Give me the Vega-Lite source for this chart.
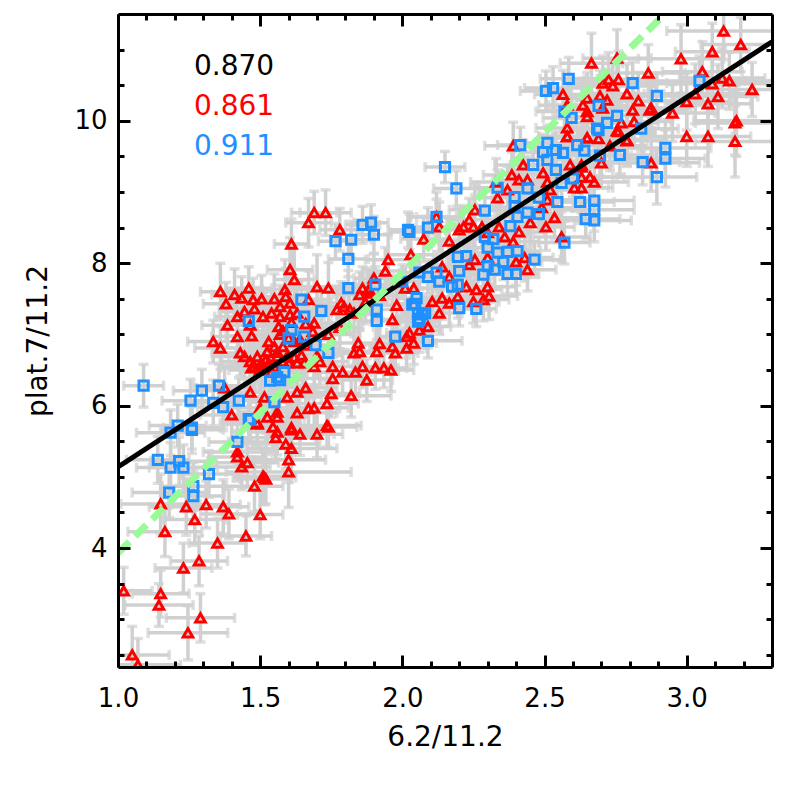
{"$schema":"https://vega.github.io/schema/vega-lite/v6.json","width":654,"height":653,"autosize":{"type":"none"},"padding":{"left":118,"top":14,"right":14,"bottom":119},"background":"white","config":{"view":{"stroke":null},"font":"DejaVu Sans"},
"datasets":{"lines":[{"l":"fit","x":1.0,"y":5.14},{"l":"fit","x":3.3,"y":11.11},{"l":"one","x":1.0,"y":3.93},{"l":"one","x":2.923,"y":11.5}],
"labels":[{"x":1.267,"y":10.75,"label":"0.870"},{"x":1.267,"y":10.2,"label":"0.861"},{"x":1.267,"y":9.63,"label":"0.911"}],
"pts":[
{"g":"r","x":1.02,"y":3.4,"xe":0.1,"ye":0.33},{"g":"r","x":1.15,"y":3.36,"xe":0.1,"ye":0.33},{"g":"r","x":1.144,"y":3.2,"xe":0.12,"ye":0.3},{"g":"r","x":1.05,"y":2.5,"xe":0.13,"ye":0.4},{"g":"r","x":1.07,"y":2.36,"xe":0.15,"ye":0.37},{"g":"r","x":1.246,"y":2.81,"xe":0.14,"ye":0.38},{"g":"r","x":1.29,"y":3.02,"xe":0.12,"ye":0.34},{"g":"r","x":1.23,"y":3.72,"xe":0.1,"ye":0.35},{"g":"r","x":1.285,"y":3.82,"xe":0.1,"ye":0.35},{"g":"r","x":1.35,"y":4.07,"xe":0.1,"ye":0.35},{"g":"r","x":1.45,"y":4.17,"xe":0.09,"ye":0.28},{"g":"r","x":1.165,"y":4.23,"xe":0.13,"ye":0.35},{"g":"r","x":1.27,"y":4.4,"xe":0.11,"ye":0.36},{"g":"r","x":1.5,"y":4.47,"xe":0.08,"ye":0.34},{"g":"r","x":1.39,"y":4.48,"xe":0.1,"ye":0.35},{"g":"r","x":1.37,"y":4.58,"xe":0.09,"ye":0.38},{"g":"r","x":1.31,"y":4.61,"xe":0.12,"ye":0.33},{"g":"r","x":1.24,"y":4.58,"xe":0.13,"ye":0.4},{"g":"r","x":1.15,"y":4.62,"xe":0.14,"ye":0.42},{"g":"r","x":1.48,"y":4.87,"xe":0.1,"ye":0.36},{"g":"r","x":1.51,"y":5.01,"xe":0.09,"ye":0.4},{"g":"r","x":1.515,"y":4.99,"xe":0.11,"ye":0.38},{"g":"r","x":1.52,"y":4.97,"xe":0.09,"ye":0.35},{"g":"r","x":1.6,"y":5.07,"xe":0.22,"ye":0.5},{"g":"r","x":1.435,"y":5.14,"xe":0.1,"ye":0.32},{"g":"r","x":1.455,"y":5.2,"xe":0.11,"ye":0.35},{"g":"r","x":1.6,"y":5.24,"xe":0.13,"ye":0.32},{"g":"r","x":1.42,"y":5.35,"xe":0.12,"ye":0.3},{"g":"r","x":1.42,"y":5.28,"xe":0.09,"ye":0.34},{"g":"r","x":1.61,"y":5.4,"xe":0.16,"ye":0.38},{"g":"r","x":1.59,"y":5.46,"xe":0.12,"ye":0.34},{"g":"r","x":1.7,"y":5.6,"xe":0.09,"ye":0.33},{"g":"r","x":1.64,"y":5.6,"xe":0.12,"ye":0.3},{"g":"r","x":1.61,"y":5.66,"xe":0.1,"ye":0.36},{"g":"r","x":1.555,"y":5.55,"xe":0.14,"ye":0.3},{"g":"r","x":1.56,"y":5.63,"xe":0.1,"ye":0.32},{"g":"r","x":1.545,"y":5.7,"xe":0.11,"ye":0.35},{"g":"r","x":1.49,"y":5.76,"xe":0.13,"ye":0.3},{"g":"r","x":1.735,"y":5.72,"xe":0.12,"ye":0.3},
{"g":"r","x":1.69,"y":8.71,"xe":0.08,"ye":0.3},{"g":"r","x":1.73,"y":8.71,"xe":0.09,"ye":0.32},{"g":"r","x":1.67,"y":8.57,"xe":0.08,"ye":0.34},{"g":"r","x":1.78,"y":8.47,"xe":0.07,"ye":0.3},{"g":"r","x":1.61,"y":8.27,"xe":0.06,"ye":0.35},{"g":"r","x":1.605,"y":7.91,"xe":0.08,"ye":0.45},{"g":"r","x":1.62,"y":7.77,"xe":0.07,"ye":0.5},{"g":"r","x":1.36,"y":7.6,"xe":0.07,"ye":0.4},{"g":"r","x":1.46,"y":7.65,"xe":0.08,"ye":0.3},{"g":"r","x":1.41,"y":7.56,"xe":0.08,"ye":0.36},{"g":"r","x":1.435,"y":7.51,"xe":0.07,"ye":0.3},{"g":"r","x":1.38,"y":7.43,"xe":0.08,"ye":0.3},{"g":"r","x":1.475,"y":7.49,"xe":0.08,"ye":0.3},{"g":"r","x":1.505,"y":7.5,"xe":0.07,"ye":0.33},{"g":"r","x":1.55,"y":7.5,"xe":0.09,"ye":0.35},{"g":"r","x":1.587,"y":7.63,"xe":0.08,"ye":0.42},{"g":"r","x":1.59,"y":7.53,"xe":0.07,"ye":0.4},{"g":"r","x":1.605,"y":7.44,"xe":0.09,"ye":0.35},{"g":"r","x":1.57,"y":7.39,"xe":0.09,"ye":0.3},{"g":"r","x":1.48,"y":7.36,"xe":0.08,"ye":0.3},{"g":"r","x":1.445,"y":7.32,"xe":0.09,"ye":0.3},{"g":"r","x":1.42,"y":7.25,"xe":0.08,"ye":0.3},{"g":"r","x":1.385,"y":7.13,"xe":0.09,"ye":0.32},{"g":"r","x":1.42,"y":6.97,"xe":0.09,"ye":0.3},{"g":"r","x":1.47,"y":6.98,"xe":0.09,"ye":0.34},{"g":"r","x":1.335,"y":6.9,"xe":0.09,"ye":0.3},{"g":"r","x":1.36,"y":6.81,"xe":0.09,"ye":0.3},{"g":"r","x":1.43,"y":6.74,"xe":0.1,"ye":0.32},{"g":"r","x":1.465,"y":7.13,"xe":0.09,"ye":0.3},{"g":"r","x":1.51,"y":7.25,"xe":0.08,"ye":0.35},{"g":"r","x":1.54,"y":7.3,"xe":0.09,"ye":0.3},{"g":"r","x":1.57,"y":7.25,"xe":0.08,"ye":0.32},{"g":"r","x":1.605,"y":7.28,"xe":0.08,"ye":0.35},{"g":"r","x":1.565,"y":7.11,"xe":0.1,"ye":0.35},{"g":"r","x":1.53,"y":6.9,"xe":0.1,"ye":0.33},{"g":"r","x":1.57,"y":7.0,"xe":0.09,"ye":0.36},{"g":"r","x":1.55,"y":6.83,"xe":0.09,"ye":0.32},{"g":"r","x":1.525,"y":6.76,"xe":0.11,"ye":0.35},{"g":"r","x":1.49,"y":6.69,"xe":0.1,"ye":0.3},{"g":"r","x":1.445,"y":6.69,"xe":0.11,"ye":0.32},{"g":"r","x":1.465,"y":6.62,"xe":0.1,"ye":0.35},{"g":"r","x":1.48,"y":6.55,"xe":0.12,"ye":0.33},{"g":"r","x":1.5,"y":6.5,"xe":0.11,"ye":0.3},{"g":"r","x":1.52,"y":6.64,"xe":0.1,"ye":0.32},{"g":"r","x":1.56,"y":6.69,"xe":0.09,"ye":0.33},{"g":"r","x":1.58,"y":6.83,"xe":0.1,"ye":0.35},{"g":"r","x":1.595,"y":6.69,"xe":0.1,"ye":0.35},{"g":"r","x":1.63,"y":6.6,"xe":0.09,"ye":0.32},{"g":"r","x":1.645,"y":6.71,"xe":0.1,"ye":0.3},{"g":"r","x":1.67,"y":7.49,"xe":0.08,"ye":0.4},{"g":"r","x":1.69,"y":7.16,"xe":0.09,"ye":0.33},{"g":"r","x":1.685,"y":7.04,"xe":0.08,"ye":0.33},{"g":"r","x":1.7,"y":7.67,"xe":0.09,"ye":0.45},{"g":"r","x":1.74,"y":7.65,"xe":0.07,"ye":0.36},{"g":"r","x":1.77,"y":7.35,"xe":0.08,"ye":0.33},{"g":"r","x":1.785,"y":7.44,"xe":0.09,"ye":0.3},{"g":"r","x":1.795,"y":7.39,"xe":0.08,"ye":0.3},{"g":"r","x":1.815,"y":7.35,"xe":0.07,"ye":0.34},{"g":"r","x":1.86,"y":7.65,"xe":0.08,"ye":0.3},{"g":"r","x":1.89,"y":7.58,"xe":0.08,"ye":0.3},{"g":"r","x":1.85,"y":7.56,"xe":0.09,"ye":0.32},{"g":"r","x":1.9,"y":7.79,"xe":0.07,"ye":0.34},{"g":"r","x":1.95,"y":8.05,"xe":0.08,"ye":0.36},{"g":"r","x":1.94,"y":7.89,"xe":0.07,"ye":0.33},{"g":"r","x":2.03,"y":8.12,"xe":0.08,"ye":0.32},{"g":"r","x":1.98,"y":7.41,"xe":0.08,"ye":0.32},{"g":"r","x":1.965,"y":7.21,"xe":0.07,"ye":0.3},{"g":"r","x":1.92,"y":6.87,"xe":0.08,"ye":0.33},{"g":"r","x":1.91,"y":6.76,"xe":0.08,"ye":0.3},{"g":"r","x":1.845,"y":6.88,"xe":0.09,"ye":0.32},{"g":"r","x":1.83,"y":6.74,"xe":0.09,"ye":0.3},{"g":"r","x":1.85,"y":6.76,"xe":0.08,"ye":0.31},{"g":"r","x":1.965,"y":6.83,"xe":0.08,"ye":0.3},{"g":"r","x":1.975,"y":6.74,"xe":0.08,"ye":0.3},{"g":"r","x":2.015,"y":6.81,"xe":0.07,"ye":0.28},{"g":"r","x":2.04,"y":6.88,"xe":0.08,"ye":0.3},{"g":"r","x":2.015,"y":6.97,"xe":0.07,"ye":0.3},{"g":"r","x":1.86,"y":6.55,"xe":0.09,"ye":0.3},{"g":"r","x":1.905,"y":6.53,"xe":0.08,"ye":0.3},{"g":"r","x":1.935,"y":6.53,"xe":0.08,"ye":0.28},{"g":"r","x":1.96,"y":6.5,"xe":0.08,"ye":0.3},{"g":"r","x":1.755,"y":6.55,"xe":0.1,"ye":0.3},{"g":"r","x":1.79,"y":6.47,"xe":0.1,"ye":0.32},{"g":"r","x":1.835,"y":6.47,"xe":0.1,"ye":0.3},{"g":"r","x":1.875,"y":6.36,"xe":0.09,"ye":0.3},{"g":"r","x":1.755,"y":6.38,"xe":0.1,"ye":0.3},{"g":"r","x":1.71,"y":6.62,"xe":0.1,"ye":0.33},{"g":"r","x":1.66,"y":6.25,"xe":0.11,"ye":0.33},{"g":"r","x":1.63,"y":6.19,"xe":0.1,"ye":0.33},{"g":"r","x":1.595,"y":6.12,"xe":0.12,"ye":0.35},{"g":"r","x":1.515,"y":6.12,"xe":0.12,"ye":0.35},{"g":"r","x":1.465,"y":6.19,"xe":0.1,"ye":0.3},{"g":"r","x":1.375,"y":6.25,"xe":0.1,"ye":0.33},{"g":"r","x":1.75,"y":6.17,"xe":0.1,"ye":0.33},{"g":"r","x":1.82,"y":6.14,"xe":0.14,"ye":0.3},{"g":"r","x":1.735,"y":6.03,"xe":0.11,"ye":0.32},{"g":"r","x":1.69,"y":5.97,"xe":0.12,"ye":0.32},{"g":"r","x":1.67,"y":5.96,"xe":0.11,"ye":0.33},{"g":"r","x":1.63,"y":5.9,"xe":0.14,"ye":0.34},{"g":"r","x":1.56,"y":5.91,"xe":0.14,"ye":0.35},{"g":"r","x":1.56,"y":5.84,"xe":0.11,"ye":0.35},{"g":"r","x":1.5,"y":5.97,"xe":0.12,"ye":0.33},{"g":"r","x":1.4,"y":5.87,"xe":0.11,"ye":0.33},{"g":"r","x":1.525,"y":5.84,"xe":0.13,"ye":0.36},{"g":"r","x":1.49,"y":5.74,"xe":0.11,"ye":0.33},{"g":"r","x":1.74,"y":5.7,"xe":0.1,"ye":0.3},{"g":"r","x":1.61,"y":5.69,"xe":0.12,"ye":0.33},
{"g":"r","x":1.53,"y":6.6,"xe":0.1,"ye":0.32},{"g":"r","x":1.55,"y":6.55,"xe":0.09,"ye":0.3},{"g":"r","x":1.51,"y":6.56,"xe":0.1,"ye":0.3},{"g":"r","x":1.54,"y":6.47,"xe":0.1,"ye":0.33},{"g":"r","x":1.58,"y":6.62,"xe":0.1,"ye":0.32},{"g":"r","x":1.5,"y":6.57,"xe":0.11,"ye":0.32},{"g":"r","x":1.56,"y":6.75,"xe":0.09,"ye":0.3},{"g":"r","x":1.47,"y":6.53,"xe":0.11,"ye":0.3},{"g":"r","x":1.6,"y":6.6,"xe":0.1,"ye":0.32},{"g":"r","x":1.62,"y":6.68,"xe":0.09,"ye":0.3},{"g":"r","x":1.655,"y":6.6,"xe":0.1,"ye":0.3},{"g":"r","x":1.69,"y":6.55,"xe":0.1,"ye":0.33},{"g":"r","x":1.7,"y":6.7,"xe":0.09,"ye":0.3},{"g":"r","x":1.66,"y":6.85,"xe":0.09,"ye":0.3},{"g":"r","x":1.64,"y":6.93,"xe":0.1,"ye":0.33},{"g":"r","x":1.62,"y":6.9,"xe":0.09,"ye":0.32},{"g":"r","x":1.6,"y":6.95,"xe":0.1,"ye":0.3},{"g":"r","x":1.58,"y":7.05,"xe":0.09,"ye":0.33},{"g":"r","x":1.61,"y":7.17,"xe":0.09,"ye":0.31},{"g":"r","x":1.63,"y":7.3,"xe":0.09,"ye":0.34},{"g":"r","x":1.66,"y":7.15,"xe":0.09,"ye":0.33},{"g":"r","x":1.74,"y":7.0,"xe":0.09,"ye":0.32},{"g":"r","x":1.78,"y":7.1,"xe":0.08,"ye":0.3},{"g":"r","x":1.83,"y":7.3,"xe":0.08,"ye":0.33},{"g":"r","x":1.87,"y":7.45,"xe":0.08,"ye":0.3},{"g":"r","x":1.92,"y":7.55,"xe":0.07,"ye":0.32},{"g":"r","x":1.88,"y":7.62,"xe":0.08,"ye":0.31},
{"g":"r","x":2.075,"y":8.34,"xe":0.08,"ye":0.32},{"g":"r","x":2.12,"y":8.65,"xe":0.09,"ye":0.35},{"g":"r","x":2.13,"y":8.51,"xe":0.08,"ye":0.35},{"g":"r","x":2.165,"y":8.31,"xe":0.08,"ye":0.33},{"g":"r","x":2.14,"y":7.95,"xe":0.09,"ye":0.32},{"g":"r","x":2.165,"y":7.81,"xe":0.08,"ye":0.3},{"g":"r","x":2.2,"y":8.47,"xe":0.09,"ye":0.3},{"g":"r","x":2.235,"y":8.61,"xe":0.08,"ye":0.3},{"g":"r","x":2.255,"y":8.75,"xe":0.09,"ye":0.35},{"g":"r","x":2.215,"y":8.51,"xe":0.08,"ye":0.3},{"g":"r","x":2.25,"y":8.51,"xe":0.08,"ye":0.32},{"g":"r","x":2.28,"y":8.51,"xe":0.09,"ye":0.3},{"g":"r","x":2.3,"y":8.43,"xe":0.09,"ye":0.32},{"g":"r","x":2.34,"y":8.51,"xe":0.09,"ye":0.33},{"g":"r","x":2.36,"y":8.37,"xe":0.08,"ye":0.33},{"g":"r","x":2.41,"y":8.44,"xe":0.09,"ye":0.35},{"g":"r","x":2.45,"y":8.57,"xe":0.1,"ye":0.32},{"g":"r","x":2.39,"y":8.3,"xe":0.09,"ye":0.3},{"g":"r","x":2.505,"y":8.51,"xe":0.1,"ye":0.33},{"g":"r","x":2.535,"y":8.64,"xe":0.1,"ye":0.3},{"g":"r","x":2.56,"y":8.37,"xe":0.1,"ye":0.35},{"g":"r","x":2.44,"y":7.91,"xe":0.1,"ye":0.3},{"g":"r","x":2.4,"y":8.02,"xe":0.09,"ye":0.33},{"g":"r","x":2.43,"y":8.08,"xe":0.1,"ye":0.33},{"g":"r","x":2.255,"y":8.05,"xe":0.09,"ye":0.3},{"g":"r","x":2.3,"y":8.08,"xe":0.09,"ye":0.31},{"g":"r","x":2.235,"y":7.98,"xe":0.08,"ye":0.33},{"g":"r","x":2.225,"y":7.67,"xe":0.09,"ye":0.32},{"g":"r","x":2.26,"y":7.63,"xe":0.09,"ye":0.31},{"g":"r","x":2.3,"y":7.67,"xe":0.1,"ye":0.33},{"g":"r","x":2.305,"y":7.54,"xe":0.1,"ye":0.33},{"g":"r","x":2.285,"y":7.49,"xe":0.09,"ye":0.3},{"g":"r","x":2.25,"y":7.46,"xe":0.09,"ye":0.3},{"g":"r","x":2.195,"y":7.53,"xe":0.09,"ye":0.3},{"g":"r","x":2.165,"y":7.44,"xe":0.09,"ye":0.32},{"g":"r","x":2.14,"y":7.51,"xe":0.08,"ye":0.3},{"g":"r","x":2.105,"y":7.46,"xe":0.08,"ye":0.3},{"g":"r","x":2.13,"y":7.3,"xe":0.08,"ye":0.3},{"g":"r","x":2.09,"y":7.11,"xe":0.08,"ye":0.3},{"g":"r","x":2.06,"y":7.06,"xe":0.08,"ye":0.31},{"g":"r","x":2.025,"y":7.02,"xe":0.08,"ye":0.3},{"g":"r","x":2.04,"y":7.65,"xe":0.08,"ye":0.31},{"g":"r","x":2.01,"y":7.65,"xe":0.08,"ye":0.3},
{"g":"r","x":2.39,"y":9.65,"xe":0.1,"ye":0.33},{"g":"r","x":2.33,"y":9.14,"xe":0.09,"ye":0.33},{"g":"r","x":2.385,"y":9.24,"xe":0.1,"ye":0.32},{"g":"r","x":2.425,"y":9.38,"xe":0.1,"ye":0.35},{"g":"r","x":2.44,"y":9.17,"xe":0.1,"ye":0.33},{"g":"r","x":2.41,"y":9.17,"xe":0.09,"ye":0.3},{"g":"r","x":2.335,"y":8.92,"xe":0.09,"ye":0.3},{"g":"r","x":2.37,"y":9.03,"xe":0.1,"ye":0.33},{"g":"r","x":2.52,"y":9.03,"xe":0.1,"ye":0.35},{"g":"r","x":2.51,"y":8.89,"xe":0.1,"ye":0.33},{"g":"r","x":2.49,"y":8.78,"xe":0.11,"ye":0.32},{"g":"r","x":2.495,"y":9.27,"xe":0.1,"ye":0.31},{"g":"r","x":2.51,"y":9.14,"xe":0.1,"ye":0.33},{"g":"r","x":2.605,"y":9.06,"xe":0.12,"ye":0.33},{"g":"r","x":2.63,"y":9.06,"xe":0.11,"ye":0.35},{"g":"r","x":2.63,"y":9.21,"xe":0.11,"ye":0.33},{"g":"r","x":2.66,"y":9.21,"xe":0.12,"ye":0.34},{"g":"r","x":2.675,"y":9.14,"xe":0.12,"ye":0.33},{"g":"r","x":2.58,"y":9.78,"xe":0.1,"ye":0.35},{"g":"r","x":2.65,"y":9.76,"xe":0.12,"ye":0.35},{"g":"r","x":2.69,"y":9.75,"xe":0.12,"ye":0.33},{"g":"r","x":2.79,"y":9.73,"xe":0.13,"ye":0.36},{"g":"r","x":2.76,"y":9.85,"xe":0.13,"ye":0.38},{"g":"r","x":2.7,"y":9.41,"xe":0.13,"ye":0.35},{"g":"r","x":2.63,"y":9.35,"xe":0.1,"ye":0.33},{"g":"r","x":2.59,"y":9.38,"xe":0.11,"ye":0.33},
{"g":"r","x":3.13,"y":11.26,"xe":0.2,"ye":0.4},{"g":"r","x":3.19,"y":11.07,"xe":0.14,"ye":0.38},{"g":"r","x":3.09,"y":10.97,"xe":0.13,"ye":0.4},{"g":"r","x":2.98,"y":10.87,"xe":0.15,"ye":0.48},{"g":"r","x":2.755,"y":10.88,"xe":0.12,"ye":0.4},{"g":"r","x":2.665,"y":10.81,"xe":0.11,"ye":0.42},{"g":"r","x":2.865,"y":10.67,"xe":0.13,"ye":0.4},{"g":"r","x":3.055,"y":10.69,"xe":0.14,"ye":0.42},{"g":"r","x":3.125,"y":10.6,"xe":0.15,"ye":0.42},{"g":"r","x":3.15,"y":10.56,"xe":0.16,"ye":0.4},{"g":"r","x":3.09,"y":10.52,"xe":0.2,"ye":0.42},{"g":"r","x":3.23,"y":10.44,"xe":0.16,"ye":0.38},{"g":"r","x":3.03,"y":10.38,"xe":0.18,"ye":0.42},{"g":"r","x":3.11,"y":10.34,"xe":0.14,"ye":0.45},{"g":"r","x":3.0,"y":10.27,"xe":0.16,"ye":0.4},{"g":"r","x":3.075,"y":10.24,"xe":0.15,"ye":0.45},{"g":"r","x":2.725,"y":10.58,"xe":0.14,"ye":0.38},{"g":"r","x":2.76,"y":10.58,"xe":0.12,"ye":0.4},{"g":"r","x":2.74,"y":10.49,"xe":0.15,"ye":0.36},{"g":"r","x":2.705,"y":10.53,"xe":0.12,"ye":0.38},{"g":"r","x":2.79,"y":10.38,"xe":0.13,"ye":0.42},{"g":"r","x":2.83,"y":10.28,"xe":0.13,"ye":0.4},{"g":"r","x":2.72,"y":10.29,"xe":0.11,"ye":0.38},{"g":"r","x":2.695,"y":10.35,"xe":0.12,"ye":0.36},{"g":"r","x":2.565,"y":10.37,"xe":0.1,"ye":0.34},{"g":"r","x":2.65,"y":10.32,"xe":0.11,"ye":0.36},{"g":"r","x":2.635,"y":10.22,"xe":0.12,"ye":0.38},{"g":"r","x":2.58,"y":10.22,"xe":0.1,"ye":0.35},{"g":"r","x":2.65,"y":10.13,"xe":0.11,"ye":0.36},{"g":"r","x":2.65,"y":10.06,"xe":0.12,"ye":0.33},{"g":"r","x":2.705,"y":10.18,"xe":0.12,"ye":0.38},{"g":"r","x":2.81,"y":10.15,"xe":0.13,"ye":0.4},{"g":"r","x":2.875,"y":10.18,"xe":0.14,"ye":0.38},{"g":"r","x":2.87,"y":10.15,"xe":0.13,"ye":0.36},{"g":"r","x":2.95,"y":10.11,"xe":0.15,"ye":0.4},{"g":"r","x":2.815,"y":9.99,"xe":0.13,"ye":0.38},{"g":"r","x":2.77,"y":9.97,"xe":0.13,"ye":0.36},{"g":"r","x":2.755,"y":9.86,"xe":0.13,"ye":0.38},{"g":"r","x":3.175,"y":10.0,"xe":0.15,"ye":0.5},{"g":"r","x":3.17,"y":9.97,"xe":0.14,"ye":0.45},{"g":"r","x":3.0,"y":9.78,"xe":0.16,"ye":0.42},{"g":"r","x":3.075,"y":9.78,"xe":0.15,"ye":0.42},{"g":"r","x":3.17,"y":9.71,"xe":0.14,"ye":0.5},{"g":"r","x":2.79,"y":9.72,"xe":0.14,"ye":0.36},{"g":"r","x":2.58,"y":9.9,"xe":0.11,"ye":0.34},{"g":"r","x":2.58,"y":9.78,"xe":0.1,"ye":0.32},{"g":"r","x":2.65,"y":9.76,"xe":0.12,"ye":0.33},{"g":"r","x":2.73,"y":9.65,"xe":0.13,"ye":0.35},{"g":"r","x":2.875,"y":9.41,"xe":0.17,"ye":0.4},{"g":"r","x":2.63,"y":9.38,"xe":0.11,"ye":0.33},
{"g":"b","x":1.14,"y":5.24,"xe":0.11,"ye":0.33},{"g":"b","x":1.185,"y":5.13,"xe":0.12,"ye":0.35},{"g":"b","x":1.215,"y":5.22,"xe":0.1,"ye":0.34},{"g":"b","x":1.23,"y":5.13,"xe":0.12,"ye":0.32},{"g":"b","x":1.32,"y":5.04,"xe":0.1,"ye":0.33},{"g":"b","x":1.18,"y":4.78,"xe":0.13,"ye":0.35},{"g":"b","x":1.265,"y":4.87,"xe":0.11,"ye":0.33},{"g":"b","x":1.265,"y":4.73,"xe":0.11,"ye":0.35},{"g":"b","x":1.185,"y":5.62,"xe":0.12,"ye":0.32},{"g":"b","x":1.21,"y":5.72,"xe":0.1,"ye":0.3},{"g":"b","x":1.26,"y":5.66,"xe":0.11,"ye":0.33},{"g":"b","x":1.42,"y":5.49,"xe":0.1,"ye":0.3},{"g":"b","x":1.465,"y":5.8,"xe":0.09,"ye":0.33},{"g":"b","x":1.255,"y":6.07,"xe":0.1,"ye":0.3},{"g":"b","x":1.295,"y":6.21,"xe":0.1,"ye":0.3},{"g":"b","x":1.355,"y":6.28,"xe":0.09,"ye":0.3},{"g":"b","x":1.335,"y":6.04,"xe":0.09,"ye":0.32},{"g":"b","x":1.37,"y":5.98,"xe":0.09,"ye":0.33},{"g":"b","x":1.425,"y":6.07,"xe":0.09,"ye":0.32},{"g":"b","x":1.46,"y":5.81,"xe":0.09,"ye":0.3},{"g":"b","x":1.26,"y":5.69,"xe":0.1,"ye":0.3},{"g":"b","x":1.09,"y":6.28,"xe":0.07,"ye":0.3},{"g":"b","x":1.535,"y":6.35,"xe":0.08,"ye":0.28},{"g":"b","x":1.56,"y":6.4,"xe":0.08,"ye":0.28},{"g":"b","x":1.585,"y":6.47,"xe":0.08,"ye":0.28},{"g":"b","x":1.57,"y":6.36,"xe":0.08,"ye":0.27},{"g":"b","x":1.6,"y":6.94,"xe":0.07,"ye":0.28},{"g":"b","x":1.61,"y":7.06,"xe":0.07,"ye":0.28},{"g":"b","x":1.655,"y":6.97,"xe":0.07,"ye":0.28},{"g":"b","x":1.655,"y":7.25,"xe":0.07,"ye":0.27},{"g":"b","x":1.715,"y":7.33,"xe":0.07,"ye":0.28},{"g":"b","x":1.645,"y":7.49,"xe":0.07,"ye":0.27},{"g":"b","x":1.46,"y":7.19,"xe":0.07,"ye":0.27},{"g":"b","x":1.695,"y":6.85,"xe":0.07,"ye":0.27},{"g":"b","x":1.74,"y":6.74,"xe":0.07,"ye":0.26},{"g":"b","x":1.55,"y":6.05,"xe":0.09,"ye":0.28},{"g":"b","x":1.765,"y":8.31,"xe":0.06,"ye":0.25},{"g":"b","x":1.82,"y":8.33,"xe":0.07,"ye":0.26},{"g":"b","x":1.86,"y":8.54,"xe":0.06,"ye":0.26},{"g":"b","x":1.89,"y":8.57,"xe":0.06,"ye":0.25},{"g":"b","x":1.9,"y":8.4,"xe":0.06,"ye":0.26},{"g":"b","x":1.81,"y":8.06,"xe":0.07,"ye":0.25},{"g":"b","x":1.81,"y":7.65,"xe":0.07,"ye":0.25},{"g":"b","x":1.905,"y":7.7,"xe":0.07,"ye":0.25},{"g":"b","x":2.02,"y":8.47,"xe":0.07,"ye":0.25},{"g":"b","x":2.025,"y":8.44,"xe":0.07,"ye":0.25},{"g":"b","x":1.91,"y":7.35,"xe":0.07,"ye":0.25},{"g":"b","x":1.91,"y":7.19,"xe":0.06,"ye":0.26},{"g":"b","x":1.975,"y":6.97,"xe":0.07,"ye":0.25},{"g":"b","x":2.045,"y":7.43,"xe":0.06,"ye":0.24},{"g":"b","x":2.055,"y":7.3,"xe":0.06,"ye":0.24},{"g":"b","x":2.055,"y":7.18,"xe":0.06,"ye":0.24},{"g":"b","x":2.0,"y":7.74,"xe":0.06,"ye":0.24},
{"g":"b","x":2.15,"y":9.35,"xe":0.07,"ye":0.22},{"g":"b","x":2.19,"y":9.05,"xe":0.08,"ye":0.25},{"g":"b","x":2.09,"y":8.5,"xe":0.07,"ye":0.28},{"g":"b","x":2.12,"y":8.65,"xe":0.07,"ye":0.25},{"g":"b","x":2.29,"y":8.74,"xe":0.08,"ye":0.27},{"g":"b","x":2.335,"y":9.06,"xe":0.08,"ye":0.25},{"g":"b","x":2.395,"y":8.93,"xe":0.08,"ye":0.25},{"g":"b","x":2.44,"y":9.05,"xe":0.08,"ye":0.25},{"g":"b","x":2.48,"y":8.92,"xe":0.08,"ye":0.25},{"g":"b","x":2.545,"y":8.86,"xe":0.09,"ye":0.28},{"g":"b","x":2.625,"y":8.86,"xe":0.12,"ye":0.3},{"g":"b","x":2.675,"y":8.88,"xe":0.14,"ye":0.3},{"g":"b","x":2.675,"y":8.75,"xe":0.14,"ye":0.3},{"g":"b","x":2.675,"y":8.6,"xe":0.13,"ye":0.3},{"g":"b","x":2.645,"y":8.62,"xe":0.12,"ye":0.28},{"g":"b","x":2.57,"y":8.29,"xe":0.09,"ye":0.3},{"g":"b","x":2.38,"y":8.52,"xe":0.08,"ye":0.26},{"g":"b","x":2.405,"y":8.65,"xe":0.08,"ye":0.26},{"g":"b","x":2.44,"y":8.71,"xe":0.08,"ye":0.26},{"g":"b","x":2.48,"y":8.69,"xe":0.08,"ye":0.26},{"g":"b","x":2.395,"y":8.79,"xe":0.08,"ye":0.26},{"g":"b","x":2.415,"y":9.66,"xe":0.08,"ye":0.25},{"g":"b","x":2.46,"y":9.38,"xe":0.08,"ye":0.26},{"g":"b","x":2.495,"y":9.56,"xe":0.08,"ye":0.25},{"g":"b","x":2.51,"y":9.69,"xe":0.08,"ye":0.25},{"g":"b","x":2.51,"y":9.45,"xe":0.08,"ye":0.26},{"g":"b","x":2.54,"y":9.59,"xe":0.08,"ye":0.26},{"g":"b","x":2.565,"y":9.55,"xe":0.09,"ye":0.26},{"g":"b","x":2.54,"y":9.31,"xe":0.08,"ye":0.26},{"g":"b","x":2.56,"y":9.13,"xe":0.09,"ye":0.26},{"g":"b","x":2.6,"y":9.19,"xe":0.1,"ye":0.26},{"g":"b","x":2.615,"y":9.66,"xe":0.1,"ye":0.27},{"g":"b","x":2.64,"y":9.58,"xe":0.1,"ye":0.27},{"g":"b","x":2.695,"y":9.51,"xe":0.11,"ye":0.28},{"g":"b","x":2.765,"y":9.52,"xe":0.12,"ye":0.28},{"g":"b","x":2.69,"y":9.87,"xe":0.1,"ye":0.28},{"g":"b","x":2.29,"y":8.37,"xe":0.08,"ye":0.25},{"g":"b","x":2.32,"y":8.34,"xe":0.08,"ye":0.25},{"g":"b","x":2.3,"y":8.22,"xe":0.08,"ye":0.25},{"g":"b","x":2.335,"y":8.15,"xe":0.08,"ye":0.25},{"g":"b","x":2.37,"y":8.16,"xe":0.08,"ye":0.25},{"g":"b","x":2.405,"y":8.17,"xe":0.08,"ye":0.25},{"g":"b","x":2.355,"y":8.02,"xe":0.08,"ye":0.25},{"g":"b","x":2.465,"y":8.05,"xe":0.09,"ye":0.25},{"g":"b","x":2.195,"y":8.09,"xe":0.07,"ye":0.25},{"g":"b","x":2.225,"y":8.1,"xe":0.07,"ye":0.25},{"g":"b","x":2.2,"y":7.89,"xe":0.07,"ye":0.25},{"g":"b","x":2.3,"y":7.96,"xe":0.08,"ye":0.25},{"g":"b","x":2.325,"y":7.91,"xe":0.08,"ye":0.25},{"g":"b","x":2.285,"y":7.84,"xe":0.08,"ye":0.25},{"g":"b","x":2.37,"y":7.85,"xe":0.08,"ye":0.28},{"g":"b","x":2.4,"y":7.85,"xe":0.08,"ye":0.28},{"g":"b","x":2.06,"y":7.87,"xe":0.07,"ye":0.24},{"g":"b","x":2.09,"y":7.81,"xe":0.07,"ye":0.24},{"g":"b","x":2.12,"y":7.87,"xe":0.07,"ye":0.24},{"g":"b","x":2.13,"y":7.74,"xe":0.07,"ye":0.24},{"g":"b","x":2.175,"y":7.67,"xe":0.07,"ye":0.24},{"g":"b","x":2.195,"y":7.7,"xe":0.07,"ye":0.24},{"g":"b","x":2.05,"y":7.51,"xe":0.07,"ye":0.24},{"g":"b","x":2.035,"y":7.42,"xe":0.07,"ye":0.24},{"g":"b","x":2.2,"y":7.37,"xe":0.07,"ye":0.25},{"g":"b","x":2.26,"y":7.36,"xe":0.07,"ye":0.25},{"g":"b","x":2.09,"y":6.91,"xe":0.12,"ye":0.24},{"g":"b","x":2.07,"y":7.28,"xe":0.07,"ye":0.24},{"g":"b","x":2.08,"y":7.3,"xe":0.07,"ye":0.24},{"g":"b","x":2.06,"y":7.22,"xe":0.07,"ye":0.24},{"g":"b","x":2.06,"y":7.2,"xe":0.07,"ye":0.24},
{"g":"b","x":2.585,"y":10.59,"xe":0.1,"ye":0.3},{"g":"b","x":2.53,"y":10.46,"xe":0.1,"ye":0.3},{"g":"b","x":2.505,"y":10.42,"xe":0.09,"ye":0.28},{"g":"b","x":2.81,"y":10.53,"xe":0.12,"ye":0.3},{"g":"b","x":3.045,"y":10.56,"xe":0.16,"ye":0.35},{"g":"b","x":2.895,"y":10.35,"xe":0.14,"ye":0.32},{"g":"b","x":2.69,"y":10.21,"xe":0.1,"ye":0.28},{"g":"b","x":2.57,"y":10.13,"xe":0.1,"ye":0.28},{"g":"b","x":2.595,"y":10.04,"xe":0.1,"ye":0.28},{"g":"b","x":2.755,"y":10.07,"xe":0.11,"ye":0.3},{"g":"b","x":2.72,"y":9.97,"xe":0.11,"ye":0.28},{"g":"b","x":2.685,"y":9.89,"xe":0.11,"ye":0.28},{"g":"b","x":2.84,"y":9.89,"xe":0.13,"ye":0.32},{"g":"b","x":2.925,"y":9.62,"xe":0.16,"ye":0.4},{"g":"b","x":2.925,"y":9.47,"xe":0.14,"ye":0.4},{"g":"b","x":2.845,"y":9.42,"xe":0.13,"ye":0.32},{"g":"b","x":2.895,"y":9.21,"xe":0.14,"ye":0.38}
]},
"layer":[
{"data":{"name":"pts"},"mark":{"type":"errorbar","ticks":{"size":10,"thickness":3.5,"color":"#d0d0d0"},"rule":{"strokeWidth":3.5,"color":"#d0d0d0"},"clip":true},"encoding":{"x":{"field":"x","type":"quantitative","scale":{"domain":[1,3.3],"nice":false,"zero":false},"axis":null},"xError":{"field":"xe"},"y":{"field":"y","type":"quantitative","scale":{"domain":[2.33,11.5],"nice":false,"zero":false},"axis":null}}},
{"data":{"name":"pts"},"mark":{"type":"errorbar","ticks":{"size":10,"thickness":3.5,"color":"#d0d0d0"},"rule":{"strokeWidth":3.5,"color":"#d0d0d0"},"clip":true},"encoding":{"y":{"field":"y","type":"quantitative","axis":null},"yError":{"field":"ye"},"x":{"field":"x","type":"quantitative","axis":null}}},
{"data":{"name":"pts"},"transform":[{"filter":"datum.g==='r'"}],"mark":{"type":"point","shape":"triangle-up","size":92,"filled":false,"stroke":"#ff0000","strokeWidth":3,"clip":true,"opacity":1},"encoding":{"x":{"field":"x","type":"quantitative","title":null,"axis":{"orient":"top","values":[1,1.5,2,2.5,3],"tickSize":-12,"tickWidth":3,"tickColor":"black","domainColor":"black","domainWidth":3,"labels":false,"grid":false,"zindex":1}},"y":{"field":"y","type":"quantitative","title":null,"axis":{"orient":"right","values":[4,6,8,10],"tickSize":-12,"tickWidth":3,"tickColor":"black","domainColor":"black","domainWidth":3,"labels":false,"grid":false,"zindex":1}}}},
{"data":{"name":"pts"},"transform":[{"filter":"datum.g==='b'"}],"mark":{"type":"point","shape":"square","size":85,"filled":false,"stroke":"#1e90ff","strokeWidth":3,"clip":true,"opacity":1},"encoding":{"x":{"field":"x","type":"quantitative","title":null,"axis":{"orient":"top","values":[1.1,1.2,1.3,1.4,1.6,1.7,1.8,1.9,2.1,2.2,2.3,2.4,2.6,2.7,2.8,2.9,3.1,3.2],"tickSize":-6,"tickWidth":3,"tickColor":"black","domain":false,"labels":false,"grid":false,"zindex":1}},"y":{"field":"y","type":"quantitative","title":null,"axis":{"orient":"right","values":[2.5,3,3.5,4.5,5,5.5,6.5,7,7.5,8.5,9,9.5,10.5,11],"tickSize":-6,"tickWidth":3,"tickColor":"black","domain":false,"labels":false,"grid":false,"zindex":1}}}},
{"data":{"name":"lines"},"transform":[{"filter":"datum.l==='fit'"}],"mark":{"type":"line","color":"black","strokeWidth":5,"clip":true},"encoding":{"x":{"field":"x","type":"quantitative","title":"6.2/11.2","axis":{"orient":"bottom","values":[1,1.5,2,2.5,3],"format":".1f","tickSize":-12,"tickWidth":3,"tickColor":"black","domainColor":"black","domainWidth":3,"labelFont":"DejaVu Sans","labelFontSize":26,"labelColor":"black","labelPadding":30,"labelFlush":false,"labelOverlap":false,"grid":false,"titleFont":"DejaVu Sans","titleFontSize":28,"titleFontWeight":"normal","titleColor":"black","titlePadding":12,"zindex":1}},"y":{"field":"y","type":"quantitative","title":"plat.7/11.2","axis":{"orient":"left","values":[4,6,8,10],"format":"d","tickSize":-12,"tickWidth":3,"tickColor":"black","domainColor":"black","domainWidth":3,"labelFont":"DejaVu Sans","labelFontSize":26,"labelColor":"black","labelPadding":23,"labelFlush":false,"labelOverlap":false,"grid":false,"titleFont":"DejaVu Sans","titleFontSize":28,"titleFontWeight":"normal","titleColor":"black","titlePadding":21,"zindex":1}}}},
{"data":{"name":"lines"},"transform":[{"filter":"datum.l==='one'"}],"mark":{"type":"line","color":"#98fb98","strokeWidth":7,"strokeDash":[16,8],"clip":true},"encoding":{"x":{"field":"x","type":"quantitative","title":null,"axis":{"orient":"bottom","values":[1.1,1.2,1.3,1.4,1.6,1.7,1.8,1.9,2.1,2.2,2.3,2.4,2.6,2.7,2.8,2.9,3.1,3.2],"tickSize":-6,"tickWidth":3,"tickColor":"black","domain":false,"labels":false,"grid":false,"zindex":1}},"y":{"field":"y","type":"quantitative","title":null,"axis":{"orient":"left","values":[2.5,3,3.5,4.5,5,5.5,6.5,7,7.5,8.5,9,9.5,10.5,11],"tickSize":-6,"tickWidth":3,"tickColor":"black","domain":false,"labels":false,"grid":false,"zindex":1}}}},
{"data":{"name":"labels"},"mark":{"type":"text","align":"left","baseline":"middle","font":"DejaVu Sans","fontSize":28},"encoding":{"x":{"field":"x","type":"quantitative","axis":null},"y":{"field":"y","type":"quantitative","axis":null},"text":{"field":"label"},"color":{"field":"label","type":"nominal","scale":{"domain":["0.870","0.861","0.911"],"range":["#000000","#ff0000","#1e90ff"]},"legend":null}}}
],
"resolve":{"axis":{"x":"independent","y":"independent"}}}
